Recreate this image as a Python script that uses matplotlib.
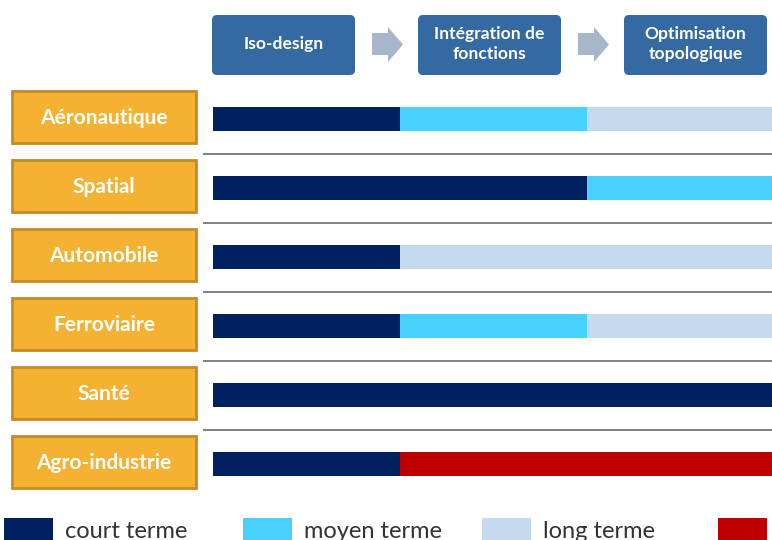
import matplotlib.pyplot as plt
from matplotlib.patches import FancyBboxPatch, Polygon, Rectangle

# secteurs (lignes) et étapes (colonnes)
secteurs = ['Aéronautique', 'Spatial', 'Automobile', 'Ferroviaire', 'Santé', 'Agro-industrie']
etapes = ['Iso-design', 'Intégration de\nfonctions', 'Optimisation\ntopologique']
termes = ['court terme', 'moyen terme', 'long terme', '']
couleurs_termes = ['#002060', '#47D1FC', '#C5DAEE', '#C00000']

# échéance par secteur pour chaque étape (indice dans termes)
echeance = [
    [0, 1, 2],
    [0, 0, 1],
    [0, 2, 2],
    [0, 1, 2],
    [0, 0, 0],
    [0, 3, 3],
]

W, H = 772, 540
fig = plt.figure(figsize=(W / 100, H / 100), dpi=100)
fig.patch.set_facecolor('white')
plt.rcParams['font.family'] = ['Lato', 'DejaVu Sans']

# axe de décor en pixels
deco = fig.add_axes([0, 0, 1, 1])
deco.set_xlim(0, W)
deco.set_ylim(H, 0)
deco.axis('off')

# axe des barres : x en étapes, y en secteurs
x0_px, step_px = 213, 187
y0_px, row_px = 119, 69
left_px = 203
ax = fig.add_axes([left_px / W, 0, 1 - left_px / W, 1])
ax.set_xlim((left_px - x0_px) / step_px, (W - x0_px) / step_px)
ax.set_ylim((H - y0_px) / row_px, -y0_px / row_px)
ax.patch.set_alpha(0)
ax.axis('off')

for i, ech in enumerate(echeance):
    for j, t in enumerate(ech):
        ax.barh(i, 1, left=j, height=0.335, color=couleurs_termes[t], linewidth=0)
    if i < len(secteurs) - 1:
        ax.axhline(i + 0.5, color='#808080', lw=1.4)

# étiquettes des secteurs
for i, nom in enumerate(secteurs):
    yc = y0_px + row_px * i - 2
    deco.add_patch(Rectangle((12, yc - 26), 184, 52, facecolor='#F5B232',
                             edgecolor='#C48B26', lw=2))
    deco.text(104, yc + 1, nom, color='white', fontsize=15, fontweight='bold',
              ha='center', va='center')

# en-têtes des étapes
box_x = [212, 418, 624]
for bx, et in zip(box_x, etapes):
    deco.add_patch(FancyBboxPatch((bx, 15), 143, 60,
                                  boxstyle='round,pad=0,rounding_size=5',
                                  facecolor='#3469A1', edgecolor='none'))
    deco.text(bx + 71.5, 44, et, color='white', fontsize=12.6, fontweight='bold',
              ha='center', va='center', linespacing=1.25)

for ax_px in [372, 578]:
    deco.add_patch(Polygon([(ax_px, 33), (ax_px + 16, 33), (ax_px + 16, 27),
                            (ax_px + 31, 44.5), (ax_px + 16, 62), (ax_px + 16, 55),
                            (ax_px, 55)], closed=True, facecolor='#A7B6CB',
                           edgecolor='none'))

# légende
leg_x = [4, 243, 482, 718]
for lx, t, c in zip(leg_x, termes, couleurs_termes):
    deco.add_patch(Rectangle((lx, 518), 49, 26, facecolor=c, edgecolor='none'))
    if t:
        deco.text(lx + 61, 531, t, color='#333333', fontsize=17,
                  ha='left', va='center')

fig.savefig('out.png', dpi=100)
